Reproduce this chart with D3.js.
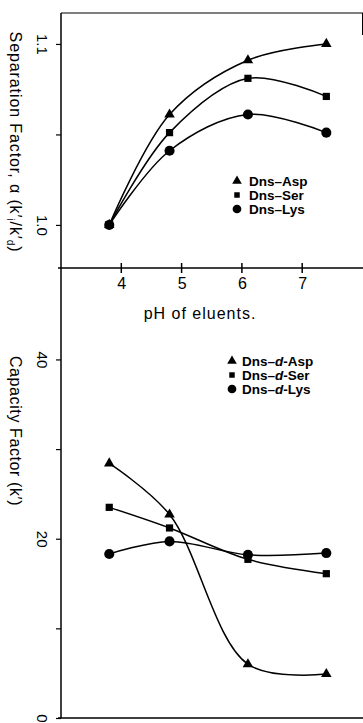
<!DOCTYPE html>
<html><head><meta charset="utf-8">
<script src="https://cdn.jsdelivr.net/npm/d3@7"></script>
<style>html,body{margin:0;padding:0;background:#fff}svg{display:block}text{font-family:"Liberation Sans",Arial,Helvetica,sans-serif;fill:#000}</style>
</head><body>
<script>
// ---- data ----
const phValues = [3.8, 4.8, 6.1, 7.4];
const sepAsp = [1.000, 1.061, 1.091, 1.100];
const sepSer = [1.000, 1.051, 1.081, 1.071];
const sepLys = [1.000, 1.041, 1.061, 1.051];
const capAsp = [28.4, 22.7, 6.0, 4.9];
const capSer = [23.5, 21.2, 17.7, 16.1];
const capLys = [18.3, 19.7, 18.2, 18.4];
const xTicks = [4, 5, 6, 7];
const sepTicks = [1.0, 1.05, 1.1];
const sepTickLabels = ["1.0", "", "1.1"];
const capTicks = [0, 10, 20, 30, 40];
const capTickLabels = ["0", "", "20", "", "40"];
const topLegend = ["Dns-Asp", "Dns-Ser", "Dns-Lys"];
const botLegend = ["Asp", "Ser", "Lys"];

const W = 363, H = 723;
const svg = d3.select("body").append("svg").attr("width", W).attr("height", H);

const left = 61, right = 362.5;
const x = d3.scaleLinear().domain([3, 8]).range([left, right]);
const topTop = 13, topBot = 268;
const ySep = d3.scaleLinear().domain([0.9762, 1.1171]).range([topBot, topTop]);
const botBot = 718;
const yCap = d3.scaleLinear().domain([0, 50.2]).range([botBot, topBot]);

const symbols = [d3.symbolTriangle, d3.symbolSquare, d3.symbolCircle];
const symSizes = [48, 52, 80];
const legSizes = [40, 30, 60];

// frame lines
const g = svg.append("g").attr("stroke", "#000").attr("fill", "none");
g.append("line").attr("x1", left).attr("x2", left).attr("y1", topTop).attr("y2", botBot).attr("stroke-width", 1.5);
g.append("line").attr("x1", left).attr("x2", W).attr("y1", topTop).attr("y2", topTop).attr("stroke-width", 1.2);
g.append("line").attr("x1", right).attr("x2", right).attr("y1", topTop).attr("y2", topTop + 22).attr("stroke-width", 1);

// x axis (between panels)
const xAxis = svg.append("g").attr("transform", `translate(0,${topBot})`)
  .call(d3.axisBottom(x).tickValues(xTicks).tickSize(0).tickFormat(d3.format("d")));
xAxis.select(".domain").remove();
xAxis.selectAll(".tick text").attr("y", 10).attr("dy", "0.71em").attr("font-size", 16);
svg.append("line").attr("x1", left - 3).attr("x2", W).attr("y1", topBot).attr("y2", topBot).attr("stroke", "#000").attr("stroke-width", 1.5);
svg.append("g").selectAll("line").data(xTicks).join("line")
  .attr("x1", d => x(d)).attr("x2", d => x(d)).attr("y1", topBot - 5).attr("y2", topBot + 5)
  .attr("stroke", "#000").attr("stroke-width", 1.5);

svg.append("text").attr("x", 200).attr("y", 319).attr("text-anchor", "middle").attr("font-size", 16)
  .attr("letter-spacing", 1).text("pH of eluents.");

// bottom x axis line
svg.append("line").attr("x1", left - 3).attr("x2", W).attr("y1", botBot).attr("y2", botBot).attr("stroke", "#000").attr("stroke-width", 1.5);

function yAxis(scale, ticks, labels) {
  const a = svg.append("g").attr("transform", `translate(${left},0)`)
    .call(d3.axisLeft(scale).tickValues(ticks).tickSize(5).tickFormat((d, i) => labels[i]));
  a.select(".domain").remove();
  a.selectAll(".tick line").attr("stroke", "#000").attr("stroke-width", 1.2);
  a.selectAll(".tick text").attr("transform", "rotate(90)").attr("x", 0).attr("y", 19)
    .attr("dy", "0.35em").attr("text-anchor", "middle").attr("font-size", 15);
}
yAxis(ySep, sepTicks, sepTickLabels);
yAxis(yCap, capTicks, capTickLabels);

// y titles
const t1 = svg.append("text").attr("transform", "translate(16,142) rotate(90)").attr("text-anchor", "middle")
  .attr("dy", "0.35em").attr("font-size", 16).attr("letter-spacing", 0.9);
t1.append("tspan").text("Separation Factor, α (k′");
t1.append("tspan").attr("dy", 3).attr("font-size", 10).text("i");
t1.append("tspan").attr("dy", -3).text("/k′");
t1.append("tspan").attr("dy", 3).attr("font-size", 10).text("d");
t1.append("tspan").attr("dy", -3).text(")");
svg.append("text").attr("transform", "translate(16,431) rotate(90)").attr("text-anchor", "middle")
  .attr("dy", "0.35em").attr("font-size", 16).attr("letter-spacing", 0.6).text("Capacity Factor (k′)");

const line = (yS) => d3.line().x((d, i) => x(phValues[i])).y(d => yS(d)).curve(d3.curveCatmullRom.alpha(0.5));

function series(vals, yS, k) {
  svg.append("path").datum(vals).attr("d", line(yS)).attr("fill", "none").attr("stroke", "#000").attr("stroke-width", 1.5);
  svg.append("g").selectAll("path").data(vals).join("path")
    .attr("transform", (d, i) => `translate(${x(phValues[i])},${yS(d)})`)
    .attr("d", d3.symbol(symbols[k], symSizes[k])).attr("fill", "#000");
}
[sepAsp, sepSer, sepLys].forEach((v, k) => series(v, ySep, k));
[capAsp, capSer, capLys].forEach((v, k) => series(v, yCap, k));

// legends
function legend(x0, y0, dy, gap, labels, dStyle) {
  labels.forEach((lab, k) => {
    const yy = y0 + k * dy;
    svg.append("path").attr("transform", `translate(${x0},${yy})`).attr("d", d3.symbol(symbols[k], legSizes[k])).attr("fill", "#000");
    const t = svg.append("text").attr("x", x0 + gap).attr("y", yy).attr("dy", "0.36em").attr("font-size", 13.5).attr("font-weight", 600);
    if (dStyle) {
      t.append("tspan").text("Dns–");
      t.append("tspan").attr("font-style", "italic").text("d");
      t.append("tspan").text("-" + lab);
    } else {
      t.text(lab.replace("-", "–"));
    }
  });
}
legend(237, 181, 14, 12, topLegend, false);
legend(232, 361, 14, 10, botLegend, true);
</script>
</body></html>
